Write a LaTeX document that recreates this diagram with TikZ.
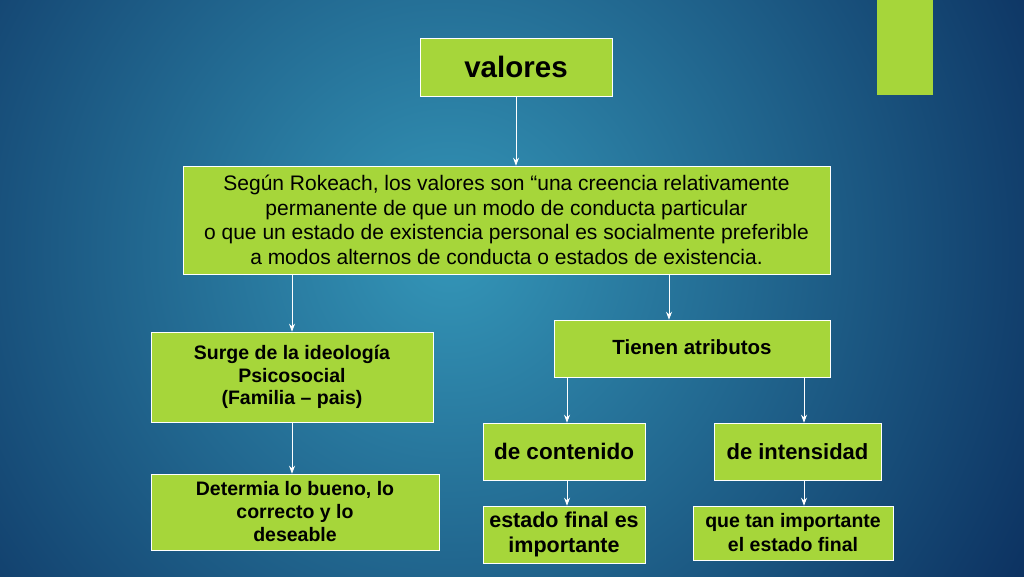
\documentclass[tikz,border=0pt]{standalone}
\usetikzlibrary{arrows.meta}
\usepackage{fontspec}
\setmainfont{Liberation Sans}
\definecolor{lime}{HTML}{A6D63A}
\definecolor{bgin}{HTML}{3496B8}
\definecolor{bgout}{HTML}{0A2C5C}
\begin{document}
\begin{tikzpicture}[x=1pt,y=-1pt,
  box/.style={draw=white,line width=0.6pt,fill=lime,inner sep=0pt,align=center,text=black},
  arr/.style={draw=white,line width=0.8pt,-{Stealth[length=8pt,width=6pt]}}]
\useasboundingbox (0,0) rectangle (1024,576);
\shade[inner color=bgin,outer color=bgout] (-250,-450) rectangle (1150,950);
\fill[lime] (877,0) rectangle (933,95);
\node[box,minimum width=192,minimum height=58,font=\fontsize{29.5}{32}\selectfont\bfseries] (val) at (516,67) {valores};
\node[box,minimum width=647,minimum height=108,font=\fontsize{21}{24.5}\selectfont] (rok) at (506.5,220) {Según Rokeach, los valores son “una creencia relativamente\\permanente de que un modo de conducta particular\\o que un estado de existencia personal es socialmente preferible\\a modos alternos de conducta o estados de existencia.};
\node[box,minimum width=282,minimum height=90,font=\fontsize{19.5}{22.5}\selectfont\bfseries] (sur) at (292,377) {Surge de la ideología\\Psicosocial\\(Familia – pais)};
\node[box,minimum width=276,minimum height=57,font=\fontsize{20.5}{22}\selectfont\bfseries] (tie) at (692,348.5) {\raisebox{3pt}{Tienen atributos}};
\node[box,minimum width=288,minimum height=76,font=\fontsize{19.5}{23}\selectfont\bfseries] (det) at (295,512) {Determia lo bueno, lo\\correcto y lo\\deseable};
\node[box,minimum width=162,minimum height=57,font=\fontsize{22.5}{22}\selectfont\bfseries] (con) at (564,451.5) {de contenido};
\node[box,minimum width=167,minimum height=57,font=\fontsize{22}{22}\selectfont\bfseries] (int) at (797.5,451.5) {de intensidad};
\node[box,minimum width=162,minimum height=57,font=\fontsize{21.5}{25}\selectfont\bfseries] (est) at (564,534.5) {estado final es\\importante};
\node[box,minimum width=200,minimum height=54,font=\fontsize{19.5}{24}\selectfont\bfseries] (que) at (793,533) {que tan importante\\el estado final};
\draw[arr] (val.south) -- (val.south |- rok.north);
\draw[arr] (rok.south -| sur.north) -- (sur.north);
\draw[arr] ([xshift=-23]rok.south -| tie.north) -- ([xshift=-23]tie.north);
\draw[arr] (sur.south) -- (sur.south |- det.north);
\draw[arr] ([xshift=3]tie.south -| con.north) -- ([xshift=3]con.north);
\draw[arr] ([xshift=6.5]tie.south -| int.north) -- ([xshift=6.5]int.north);
\draw[arr] ([xshift=3]con.south) -- ([xshift=3]est.north);
\draw[arr] ([xshift=6.5]int.south) -- ([xshift=6.5]int.south |- que.north);
\end{tikzpicture}
\end{document}
